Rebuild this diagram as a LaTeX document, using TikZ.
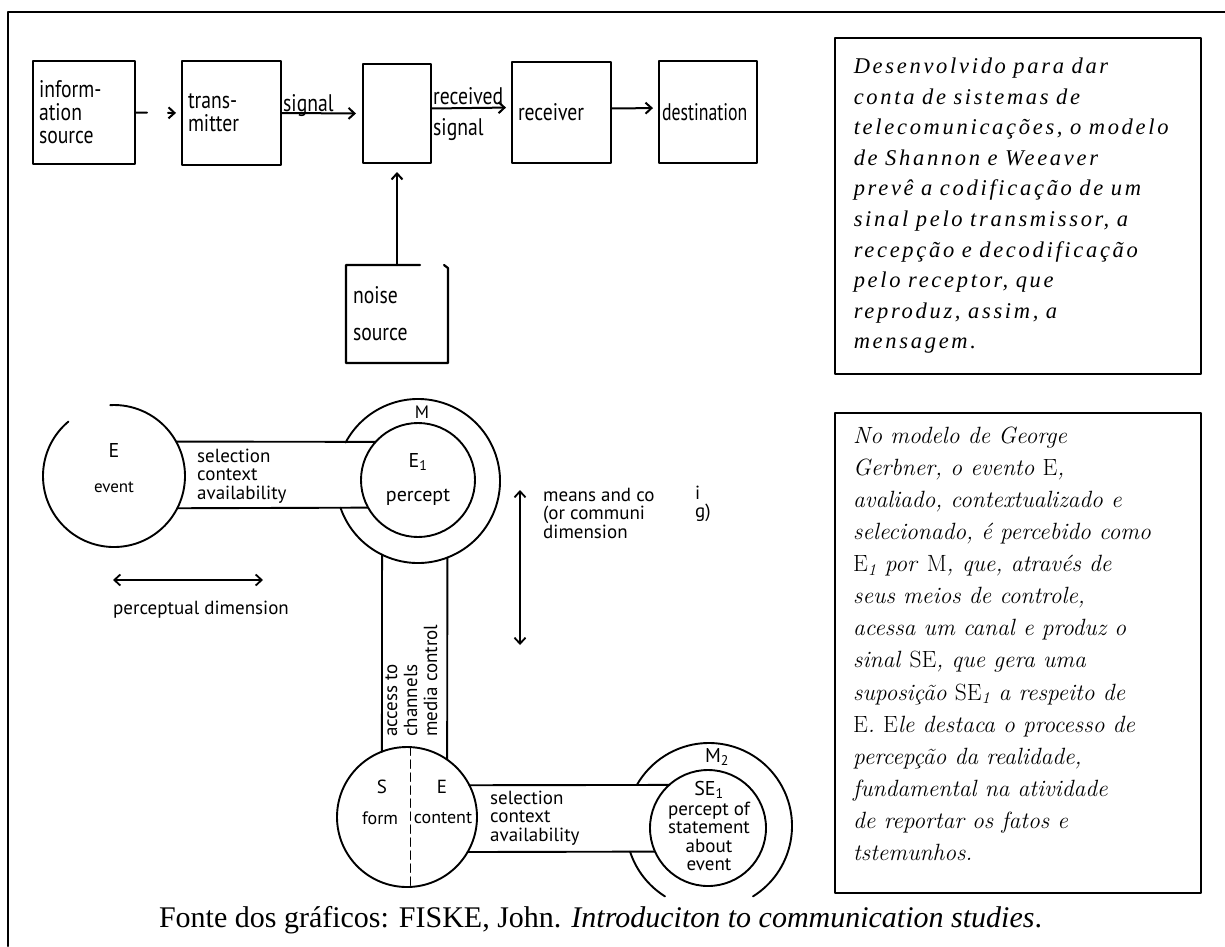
\documentclass[tikz,border=0pt]{standalone}
\usepackage{fontspec}
\newfontfamily\gill[FakeStretch=0.82]{PT Sans}
\newfontfamily\gilld[FakeStretch=0.74]{PT Sans}
\newfontfamily\gillw{PT Sans}
\newfontfamily\tnr{Liberation Serif}
\newfontfamily\tnrsp[LetterSpace=12]{Liberation Serif}
\usetikzlibrary{arrows.meta,calc}
\begin{document}
\begin{tikzpicture}[x=1pt,y=1pt,
  line cap=round, line join=round,
  dline/.style={line width=1.9pt},
  topbox/.style={draw, line width=2.2pt, inner xsep=6pt, inner ysep=0pt, align=left, outer sep=0pt,
    font=\gill\fontsize{24}{23}\selectfont},
  arr/.style={line width=2pt, -{Straight Barb[length=6pt,width=11pt,line width=2pt]}},
  dual/.style={line width=1.8pt, {Straight Barb[length=6pt,width=11pt,line width=1.8pt]}-{Straight Barb[length=6pt,width=11pt,line width=1.8pt]}},
  lbl/.style={inner sep=0pt, font=\gillw\fontsize{19}{18.5}\selectfont},
  ring/.style={circle, inner sep=0pt, outer sep=0pt},
  txtbox/.style={draw, line width=1.6pt, align=left, inner xsep=19pt, inner ysep=0pt, anchor=north west},
]
\useasboundingbox (0,0) rectangle (1225,-946);
\fill[white] (0,0) rectangle (1225,-946);
% outer frame
\draw[line width=2.2pt] (8,-946) -- (8,-12) -- (1225,-12);

% ---------------- Shannon & Weaver ----------------
\node[topbox, text width=90pt, minimum height=103pt] (info) at (84,-112.5) {inform-\\ation\\source};
\node[topbox, text width=87pt, minimum height=104pt] (trans) at (231.5,-113) {trans-\\mitter};
\node[topbox, text width=56pt, minimum height=99pt] (chan) at (397,-113.5) {};
\node[topbox, text width=87pt, minimum height=101pt] (recv) at (561.5,-112.5) {receiver};
\node[topbox, text width=92pt, inner xsep=3pt, minimum height=102pt, font=\gilld\fontsize{24}{23}\selectfont] (dest) at (708,-112) {destination};
\node[topbox, draw=none, text width=88pt, inner xsep=7pt, minimum height=98pt,
      font=\gill\fontsize{24}{37}\selectfont] (noise) at (397,-314) {noise\\source};
\draw[line width=2.2pt] ($(noise.north east)+(-28,0)$) -- (noise.north west) -- (noise.south west)
   -- (noise.south east) -- ($(noise.north east)+(0,-3)$) -- ++(-4,3);

\draw[arr, dash pattern=on 12pt off 21pt on 40pt, shorten >=6pt] (info.east) -- (trans.west);
\draw[arr, shorten >=7pt] (trans.east) -- (chan.west);
\draw[arr, shorten >=6pt] ([yshift=5pt]chan.east) -- ([yshift=5pt]recv.west);
\draw[arr, shorten >=6pt] ([yshift=4pt]recv.east) -- ([yshift=4pt]dest.west);
\draw[arr, shorten >=9pt] (noise.north) -- (chan.south);

\node[inner sep=0pt, anchor=base west, font=\gill\fontsize{24}{22}\selectfont] (sig) at (283,-111) {signal};
\node[inner sep=0pt, anchor=base west, font=\gill\fontsize{24}{22}\selectfont] (rec1) at (433,-104) {received};
\node[inner sep=0pt, anchor=base west, font=\gill\fontsize{24}{22}\selectfont] (rec2) at (433,-135) {signal};

% ---------------- Gerbner ----------------
\node[ring, minimum size=142pt] (E) at (114,-476) {};
\draw[dline] (E.130) arc[start angle=130, end angle=453, radius=71pt];
\node[lbl, font=\gillw\fontsize{20}{20}\selectfont] (Elab) at (114,-450) {E};
\node[lbl, font=\gillw\fontsize{17}{17}\selectfont] (evlab) at (114,-487) {event};

\node[ring, minimum size=164pt] (Mo) at (418,-481) {};
\node[ring, draw, dline, minimum size=114pt] (Mi) at (418,-480) {};
\draw[dline] (Mo.199) arc[start angle=199, end angle=512, radius=82pt];
\node[lbl, font=\gillw\fontsize{18}{18}\selectfont] (Mlab) at (422,-412) {M};
\node[lbl, font=\gillw\fontsize{20}{20}\selectfont] (E1lab) at (418,-462) {E\textsubscript{1}};
\node[lbl, font=\gillw\fontsize{20}{20}\selectfont] (perc) at (418,-497) {percept};

% band E -- M
\draw[dline] (E.29) -- (Mi.138);
\draw[dline] (E.333) -- (Mi.209);
\node[lbl, anchor=west, align=left] (band1) at (197,-476) {selection\\context\\availability};

% channel M -- SE
\node[ring, draw, dline, minimum size=140pt] (SE) at (407,-817) {};
\draw[dline] (Mo.244) -- (SE.111);
\draw[dline] (Mo.291) -- (SE.55);
\node[lbl, rotate=90, anchor=north west, align=left, font=\gillw\fontsize{19}{20}\selectfont] (chtext) at (385,-737) {access to\\channels\\media control};
\draw[line width=1.6pt, dash pattern=on 8pt off 5pt] (SE.87) -- (SE.273);
\node[lbl, font=\gillw\fontsize{19}{19}\selectfont] (Slab) at (382,-787) {S};
\node[lbl, font=\gillw\fontsize{19}{19}\selectfont] (Elab2) at (442,-787) {E};
\node[lbl, font=\gillw\fontsize{18}{18}\selectfont] (form) at (380,-818) {form};
\node[lbl, font=\gillw\fontsize{18}{18}\selectfont] (cont) at (443,-818) {content};

% M2
\node[ring, minimum size=166pt] (M2o) at (709,-826) {};
\node[ring, draw, dline, minimum size=116pt] (M2i) at (708,-828) {};
\draw[dline] (M2o.302) arc[start angle=302, end angle=510, radius=83pt];
\draw[dline] (M2o.198) arc[start angle=198, end angle=238, radius=83pt];
\node[lbl, font=\gillw\fontsize{20}{20}\selectfont] (M2lab) at (717,-757) {M\textsubscript{2}};
\node[lbl, font=\gillw\fontsize{20}{20}\selectfont] (SE1lab) at (709,-790) {SE\textsubscript{1}};
\node[lbl, align=center, font=\gillw\fontsize{19}{18.3}\selectfont] (stmt) at (709,-836.5) {percept of\\statement\\about\\event};

% band SE -- M2
\draw[dline] (SE.27) -- (M2i.132);
\draw[dline] (SE.330) -- (M2i.204);
\node[lbl, anchor=west, align=left] (band2) at (490,-818) {selection\\context\\availability};

% dimensions
\coordinate (pd1) at (113,-580);
\coordinate (pd2) at (263,-580);
\draw[dual] (pd1) -- (pd2);
\node[lbl, anchor=west] (pdlab) at (113,-610) {perceptual dimension};
\coordinate (md1) at (520,-490);
\coordinate (md2) at (520,-645);
\draw[dual] (md1) -- (md2);
\node[lbl, anchor=west, align=left] (mdlab) at (543,-513) {means and co\\(or communi\\dimension};
\node[lbl, anchor=west, align=left] (mdfrag) at (695,-504) {i\\g)};

% ---------------- text boxes ----------------
\node[txtbox, text width=328pt, minimum height=336pt,
      font=\tnrsp\itshape\fontsize{22.5}{30.6}\selectfont] (tb1) at (834,-37)
  {Desenvolvido para dar\\conta de sistemas de\\telecomunicações, o modelo\\de Shannon e Weeaver\\prevê a codificação de um\\sinal pelo transmissor, a\\recepção e decodificação\\pelo receptor, que\\reproduz, assim, a\\mensagem.};

\node[txtbox, minimum width=366pt, minimum height=480pt, inner sep=0pt] (tb2) at (834,-412) {};
\node[inner sep=0pt, anchor=north west, align=left,
      font=\itshape\fontsize{23.5}{32.1}\selectfont] (tb2text) at (853,-426.5)
  {No modelo de George\\Gerbner, o evento \textup{E},\\avaliado, contextualizado e\\selecionado, é percebido como\\\textup{E}\textsubscript{1} por \textup{M}, que, através de\\seus meios de controle,\\acessa um canal e produz o\\sinal \textup{SE}, que gera uma\\suposição \textup{SE}\textsubscript{1} a respeito de\\\textup{E}. \textup{E}le destaca o processo de\\percepção da realidade,\\fundamental na atividade\\de reportar os fatos e\\tstemunhos.};

% caption
\node[inner sep=0pt, anchor=base, font=\tnr\fontsize{30}{30}\selectfont] (cap) at (600.5,-927)
  {Fonte dos gráficos: FISKE, John. \textit{Introduciton to communication studies}.};
\end{tikzpicture}
\end{document}
